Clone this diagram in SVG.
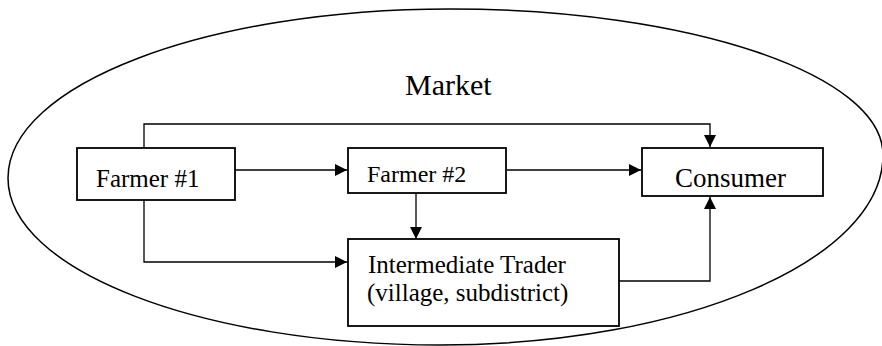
<svg xmlns="http://www.w3.org/2000/svg" width="882" height="346" viewBox="0 0 882 346">
<style>
  .box { fill: #fff; stroke: #000; stroke-width: 1.8; }
  .lbl { font-family: "Liberation Serif", "DejaVu Serif", serif; fill: #000; }
  .conn { fill: none; stroke: #000; stroke-width: 1.3; }
  .market { fill: none; stroke: #000; stroke-width: 1.5; }
</style>
<defs>
  <marker id="arrow" markerUnits="userSpaceOnUse" markerWidth="12" markerHeight="12" viewBox="0 0 12 12" refX="12" refY="6" orient="auto">
    <path d="M0,0 L12,6 L0,12 z" fill="#000"/>
  </marker>
</defs>
<rect width="882" height="346" fill="#fff"/>
<g id="market">
  <path class="market" d="M 8 178 C 8 84.7 205.9 9 450 9 C 689.1 9 883 74.4 883 155 C 883 260 684.7 345 440 345 C 201.4 345 8 270.2 8 178 Z"/>
  <text class="lbl" x="405" y="95" font-size="30">Market</text>
</g>
<g id="connectors">
  <polyline class="conn" points="144,148 144,124 710,124 710,147" marker-end="url(#arrow)"/>
  <line class="conn" x1="235" y1="170" x2="347" y2="170" marker-end="url(#arrow)"/>
  <line class="conn" x1="507" y1="170" x2="641" y2="170" marker-end="url(#arrow)"/>
  <line class="conn" x1="416" y1="193" x2="416" y2="239" marker-end="url(#arrow)"/>
  <polyline class="conn" points="144,192 144,262 347,262" marker-end="url(#arrow)"/>
  <polyline class="conn" points="619,281 710,281 710,197" marker-end="url(#arrow)"/>
</g>
<g id="farmer1">
  <rect class="box" x="77" y="148" width="158" height="52"/>
  <text class="lbl" x="96" y="187" font-size="25">Farmer #1</text>
</g>
<g id="farmer2">
  <rect class="box" x="348" y="148" width="158" height="45"/>
  <text class="lbl" x="367" y="182" font-size="24">Farmer #2</text>
</g>
<g id="consumer">
  <rect class="box" x="642" y="148" width="181" height="48"/>
  <text class="lbl" x="675" y="187" font-size="27">Consumer</text>
</g>
<g id="trader">
  <rect class="box" x="348" y="239" width="271" height="87"/>
  <text class="lbl" x="368" y="273" font-size="25">Intermediate Trader</text>
  <text class="lbl" x="367" y="301" font-size="25">(village, subdistrict)</text>
</g>
</svg>
